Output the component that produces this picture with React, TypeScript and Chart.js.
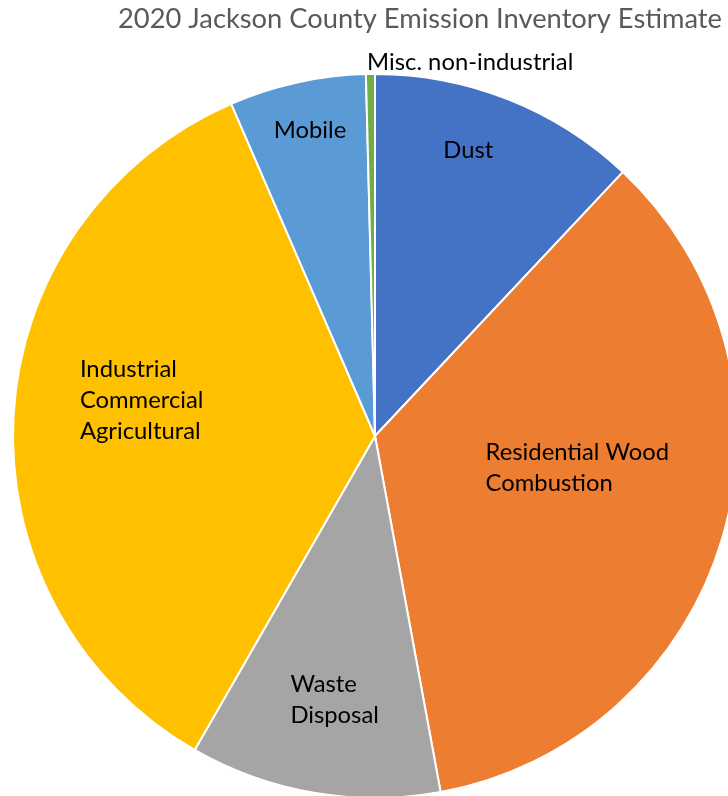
import { useEffect, useRef } from "react";
import { Chart, ArcElement, PieController } from "chart.js";

Chart.register(ArcElement, PieController);

// Emission inventory shares (percent of total), clockwise from 12 o'clock
const chartTitle = "2020 Jackson County Emission Inventory Estimate";
const categories = [
  "Dust",
  "Residential Wood Combustion",
  "Waste Disposal",
  "Industrial Commercial Agricultural",
  "Mobile",
  "Misc. non-industrial",
];
const labelLines = [
  ["Dust"],
  ["Residential Wood", "Combustion"],
  ["Waste", "Disposal"],
  ["Industrial", "Commercial", "Agricultural"],
  ["Mobile"],
  ["Misc. non-industrial"],
];
const shares = [12.0, 35.1, 11.2, 35.2, 6.1, 0.4];
const sliceColors = ["#4472C4", "#ED7D31", "#A5A5A5", "#FFC000", "#5B9BD5", "#70AD47"];

// Data label placement: angular shift from the slice's mid-angle (degrees)
// and distance from the centre as a fraction of the radius
const labelShift = [-3.5, -7.4, -1.0, 5.4, 0.4, 15.0];
const labelDistance = [0.83, 0.566, 0.736, 0.652, 0.862, 1.066];

const FONT_FAMILY = "Lato, 'Open Sans', sans-serif";
const LABEL_FONT = `23.8px ${FONT_FAMILY}`;
const LABEL_LINE_HEIGHT = 31;
const TITLE_FONT = `27.3px ${FONT_FAMILY}`;

const sliceLabels = {
  id: "sliceLabels",
  afterDatasetsDraw(chart: Chart) {
    const ctx = chart.ctx;
    const meta = chart.getDatasetMeta(0);
    ctx.save();
    ctx.font = LABEL_FONT;
    ctx.fillStyle = "#000000";
    ctx.textAlign = "left";
    ctx.textBaseline = "middle";
    meta.data.forEach((el: any, i: number) => {
      const { x, y, startAngle, endAngle, outerRadius } = el.getProps(
        ["x", "y", "startAngle", "endAngle", "outerRadius"],
        true
      );
      const mid = (startAngle + endAngle) / 2 + (labelShift[i] * Math.PI) / 180;
      const d = labelDistance[i] * outerRadius;
      const ax = x + Math.cos(mid) * d;
      const ay = y + Math.sin(mid) * d;
      const lines = labelLines[i];
      const w = Math.max(...lines.map((l) => ctx.measureText(l).width));
      lines.forEach((line, k) => {
        ctx.fillText(line, ax - w / 2, ay + (k - (lines.length - 1) / 2) * LABEL_LINE_HEIGHT);
      });
    });
    ctx.restore();
  },
  afterDraw(chart: Chart) {
    const ctx = chart.ctx;
    ctx.save();
    ctx.font = TITLE_FONT;
    ctx.fillStyle = "#595959";
    ctx.textAlign = "center";
    ctx.textBaseline = "alphabetic";
    ctx.fillText(chartTitle, 420, 28);
    ctx.restore();
  },
};

export default function App() {
  const canvasRef = useRef<HTMLCanvasElement | null>(null);

  useEffect(() => {
    if (!canvasRef.current) return;
    const chart = new Chart(canvasRef.current, {
      type: "pie",
      data: {
        labels: categories,
        datasets: [
          {
            data: shares,
            backgroundColor: sliceColors,
            borderColor: "#FFFFFF",
            borderWidth: 2,
            clip: false,
          } as any,
        ],
      },
      options: {
        responsive: false,
        animation: false,
        radius: 362,
        layout: { padding: { left: 22, right: 0, top: 76, bottom: 0 } },
        plugins: {
          legend: { display: false },
          tooltip: { enabled: false },
        },
      } as any,
      plugins: [sliceLabels],
    });
    return () => chart.destroy();
  }, []);

  return (
    <div style={{ position: "absolute", left: 0, top: 0, width: 728, height: 796, background: "#FFFFFF", overflow: "hidden" }}>
      <canvas ref={canvasRef} width={728} height={796} />
    </div>
  );
}
